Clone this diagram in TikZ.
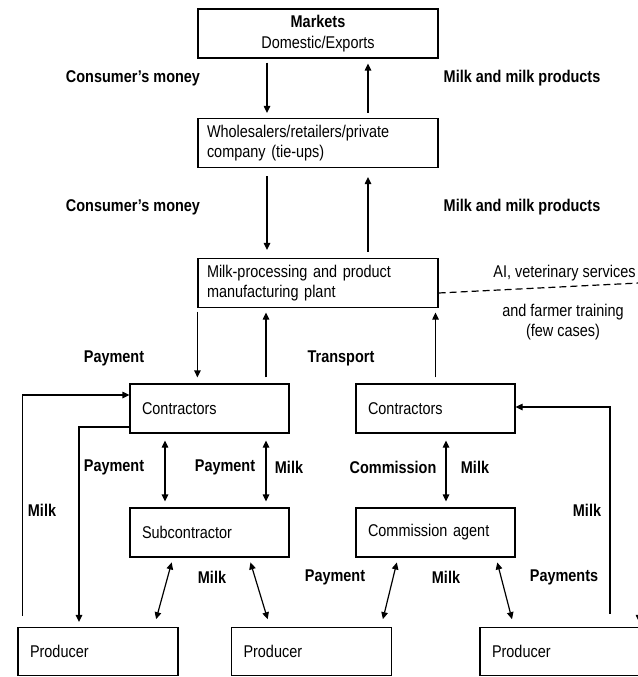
\documentclass[tikz,border=0pt]{standalone}
\usepackage{fontspec}
\setmainfont{Liberation Sans}[FakeStretch=0.85]
\usetikzlibrary{arrows.meta, positioning}

\begin{document}
\begin{tikzpicture} [%
    x = 1pt, y = -1pt,
    on grid,
    >= {Triangle[length=7pt, width=6.5pt]},
    line width = 1.2pt,
    font = \fontsize{17}{20.5}\selectfont,
    box/.style = {%
      draw, minimum height = 49pt,
      inner xsep = 9pt, align = left },
    widebox/.style = {%
      box, text width = 222pt },
    smallbox/.style = {%
      box, inner xsep = 12pt, text width = 135pt },
    prodbox/.style = {%
      box, minimum height = 48pt,
      inner xsep = 12pt, text width = 136pt },
    lbl/.style = {%
      font = \fontsize{17}{20.5}\selectfont\bfseries },
    note/.style = {%
      align = center }
  ]

\useasboundingbox (0,0) rectangle (637,677);

% boxes
\node[widebox, align=center] (mkt)   at (318,33.5) {\textbf{Markets}\\Domestic/Exports};
\node[widebox]  (whole) [below=109.5pt of mkt]   {Wholesalers/retailers/private\\company (tie-ups)};
\node[widebox]  (plant) [below=140pt of whole]   {Milk-processing and product\\manufacturing plant};
\node[smallbox] (ctrL)  [below left=125.5pt and 108.5pt of plant]  {Contractors};
\node[smallbox] (ctrR)  [below right=125.5pt and 117.5pt of plant] {Contractors};
\node[smallbox] (sub)   [below=124pt of ctrL]    {Subcontractor};
\node[smallbox] (agent) [below=124pt of ctrR]    {Commission agent};
\node[prodbox]  (prodL) [below left=119pt and 111.5pt of sub]     {Producer};
\node[prodbox]  (prodM) [below right=119pt and 102pt of sub]      {Producer};
\node[prodbox]  (prodR) [below right=119pt and 124.5pt of agent]  {Producer};

\coordinate (cut) at (639,570);

% labels
\node[lbl] (money1)  at (133,78)  {Consumer's money};
\node[lbl] (goods1)  at (522,78)  {Milk and milk products};
\node[lbl] (money2)  at (133,207) {Consumer's money};
\node[lbl] (goods2)  at (522,207) {Milk and milk products};
\node[anchor=east] (ai) at (639.5,273) {AI, veterinary services};
\node[note] (train) at (563,322) {and farmer training\\(few cases)};
\node[lbl] (pay1)    at (114,358) {Payment};
\node[lbl] (trans)   at (341,358) {Transport};
\node[lbl] (pay2)    at (114,467) {Payment};
\node[lbl] (pay3)    at (225,467) {Payment};
\node[lbl] (milk1)   at (289,467) {Milk};
\node[lbl] (comm)    at (393,467) {Commission};
\node[lbl] (milk2)   at (475,467) {Milk};
\node[lbl] (milk3)   at (42,510)  {Milk};
\node[lbl] (milk4)   at (587,510) {Milk};
\node[lbl] (milk5)   at (212,577) {Milk};
\node[lbl] (pay4)    at (335,577) {Payment};
\node[lbl] (milk6)   at (446,577) {Milk};
\node[lbl] (pay5)    at (564,577) {Payments};

% money and goods
\path[->]
([xshift=-51pt]mkt.south) edge [shorten <=4pt, shorten >=5pt] ([xshift=-51pt]whole.north)
([xshift=50pt]whole.north) edge [shorten <=5pt, shorten >=5pt] ([xshift=50pt]mkt.south)
([xshift=-51pt]whole.south) edge [shorten <=8pt, shorten >=8pt] ([xshift=-51pt]plant.north)
([xshift=50pt]plant.north) edge [shorten <=6pt, shorten >=9pt] ([xshift=50pt]whole.south)

(plant.south west) edge [shorten <=3.5pt, shorten >=6pt] (plant.south west |- ctrL.north)
([xshift=56.5pt]ctrL.north) edge [shorten <=6pt, shorten >=4.5pt] ([xshift=56.5pt]ctrL.north |- plant.south)
(ctrR.north) edge [shorten <=6pt, shorten >=4.5pt] (ctrR.north |- plant.south);

\path[<->, shorten <=7pt, shorten >=6pt]
([xshift=-44.5pt]ctrL.south) edge ([xshift=-44.5pt]sub.north)
([xshift=56.5pt]ctrL.south)  edge ([xshift=56.5pt]sub.north)
([xshift=10.5pt]ctrR.south)  edge ([xshift=10.5pt]agent.north);

\path[<->, shorten <=5pt, shorten >=8pt]
([xshift=-36.5pt]sub.south)   edge ([xshift=56pt]prodL.north)
([xshift=39.5pt]sub.south)    edge ([xshift=-41.5pt]prodM.north)
([xshift=-37.5pt]agent.south) edge ([xshift=69.5pt]prodM.north)
([xshift=60.5pt]agent.south)  edge ([xshift=-46pt]prodR.north);

% side loops
\draw[->] ([xshift=5pt, yshift=11pt]prodL.north west) |- ([yshift=13.5pt]ctrL.west);
\draw[->] ([yshift=-18.5pt]ctrL.west) -| ([xshift=-19pt, yshift=5pt]prodL.north);
\draw[->] ([xshift=50pt, yshift=13pt]prodR.north) |- ([yshift=1.5pt]ctrR.east);
\draw[->] (cut) -- ([xshift=79pt, yshift=5pt]prodR.north);

% services
\draw[dashed, dash pattern=on 7pt off 4pt] ([yshift=-10pt]plant.east) -- (plant.east -| cut);

\end{tikzpicture}
\end{document}
